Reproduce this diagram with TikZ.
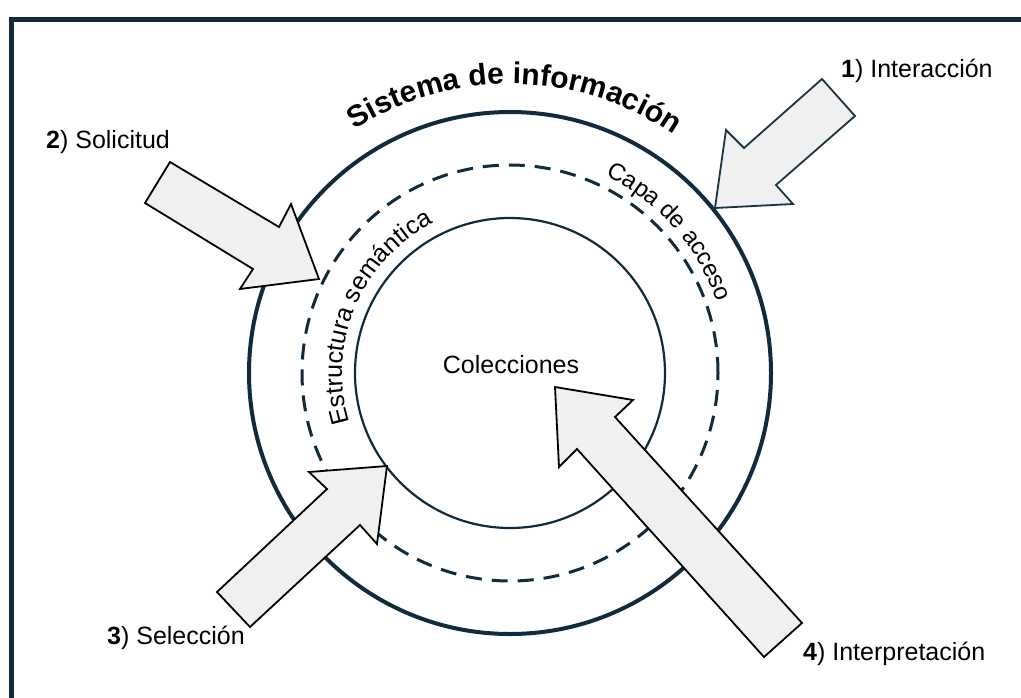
\documentclass[tikz,border=0pt]{standalone}
\usepackage{fontspec}
\setmainfont{Liberation Sans}
\usetikzlibrary{calc,decorations.text}
\definecolor{navy}{HTML}{0F2B3C}
\definecolor{arrowfill}{HTML}{F0F0F0}
\definecolor{arrowline}{HTML}{1B3442}
\tikzset{
  ring/.style={draw=navy},
  blockarrow/.style={draw=black, fill=arrowfill, line width=1.8pt, line join=miter},
  label/.style={inner sep=0pt, font=\fontsize{25}{30}\selectfont, text=black},
}
\begin{document}
\begin{tikzpicture}[x=1pt,y=1pt]
\useasboundingbox (0,0) rectangle (1021,-697);
\clip (0,0) rectangle (1021,-697);
\fill[white] (0,0) rectangle (1021,-697);
% frame (only top and left visible)
\draw[navy, line width=5pt] (11.5,-720) -- (11.5,-19.5) -- (1040,-19.5);

\coordinate (C) at (510,-373);
% circles
\draw[ring, line width=4pt] (C) circle[radius=261pt];
\draw[ring, line width=3pt, dash pattern=on 16pt off 10pt] (C) circle[radius=208pt];
\draw[ring, line width=2.2pt] (C) circle[radius=155pt];

% curved texts
\path[decorate, decoration={text along path, text align=center,
  text={|\fontsize{30}{30}\selectfont\bfseries|Sistema de información}}]
  ($(C)+(140:289pt)$) arc[start angle=140, end angle=38, radius=289pt];
\path[decorate, decoration={text along path, text align=center,
  text={|\fontsize{24}{24}\selectfont|Capa de acceso}}]
  ($(C)+(80:219pt)$) arc[start angle=80, end angle=3, radius=219pt];
\path[decorate, decoration={text along path, text align=center,
  text={|\fontsize{25}{25}\selectfont|Estructura semántica}}]
  ($(C)+(205:168pt)$) arc[start angle=205, end angle=109, radius=168pt];

\node[label, anchor=base] (col) at (511,-373) {Colecciones};

% block arrows
\draw[blockarrow, draw=arrowline] (855,-116) -- (776,-185) -- (793,-204) -- (715,-208)
  -- (726,-130) -- (744,-148) -- (822,-79) -- cycle;
\draw[blockarrow] (170,-162) -- (279,-227) -- (291,-204) -- (319,-279)
  -- (240,-289) -- (253,-269) -- (145,-203) -- cycle;
\draw[blockarrow] (217,-592) -- (327,-489) -- (309,-472) -- (387,-466)
  -- (377,-544) -- (360,-525) -- (250,-627) -- cycle;
\draw[blockarrow] (802,-623) -- (615,-417) -- (633,-400) -- (555,-387)
  -- (559,-467) -- (577,-449) -- (764,-657) -- cycle;

% labels
\node[label, anchor=base west] (l1) at (841,-77) {\textbf{1}) Interacción};
\node[label, anchor=base west] (l2) at (46,-148) {\textbf{2}) Solicitud};
\node[label, anchor=base west] (l3) at (107,-644) {\textbf{3}) Selección};
\node[label, anchor=base west] (l4) at (803,-660) {\textbf{4}) Interpretación};
\end{tikzpicture}
\end{document}
